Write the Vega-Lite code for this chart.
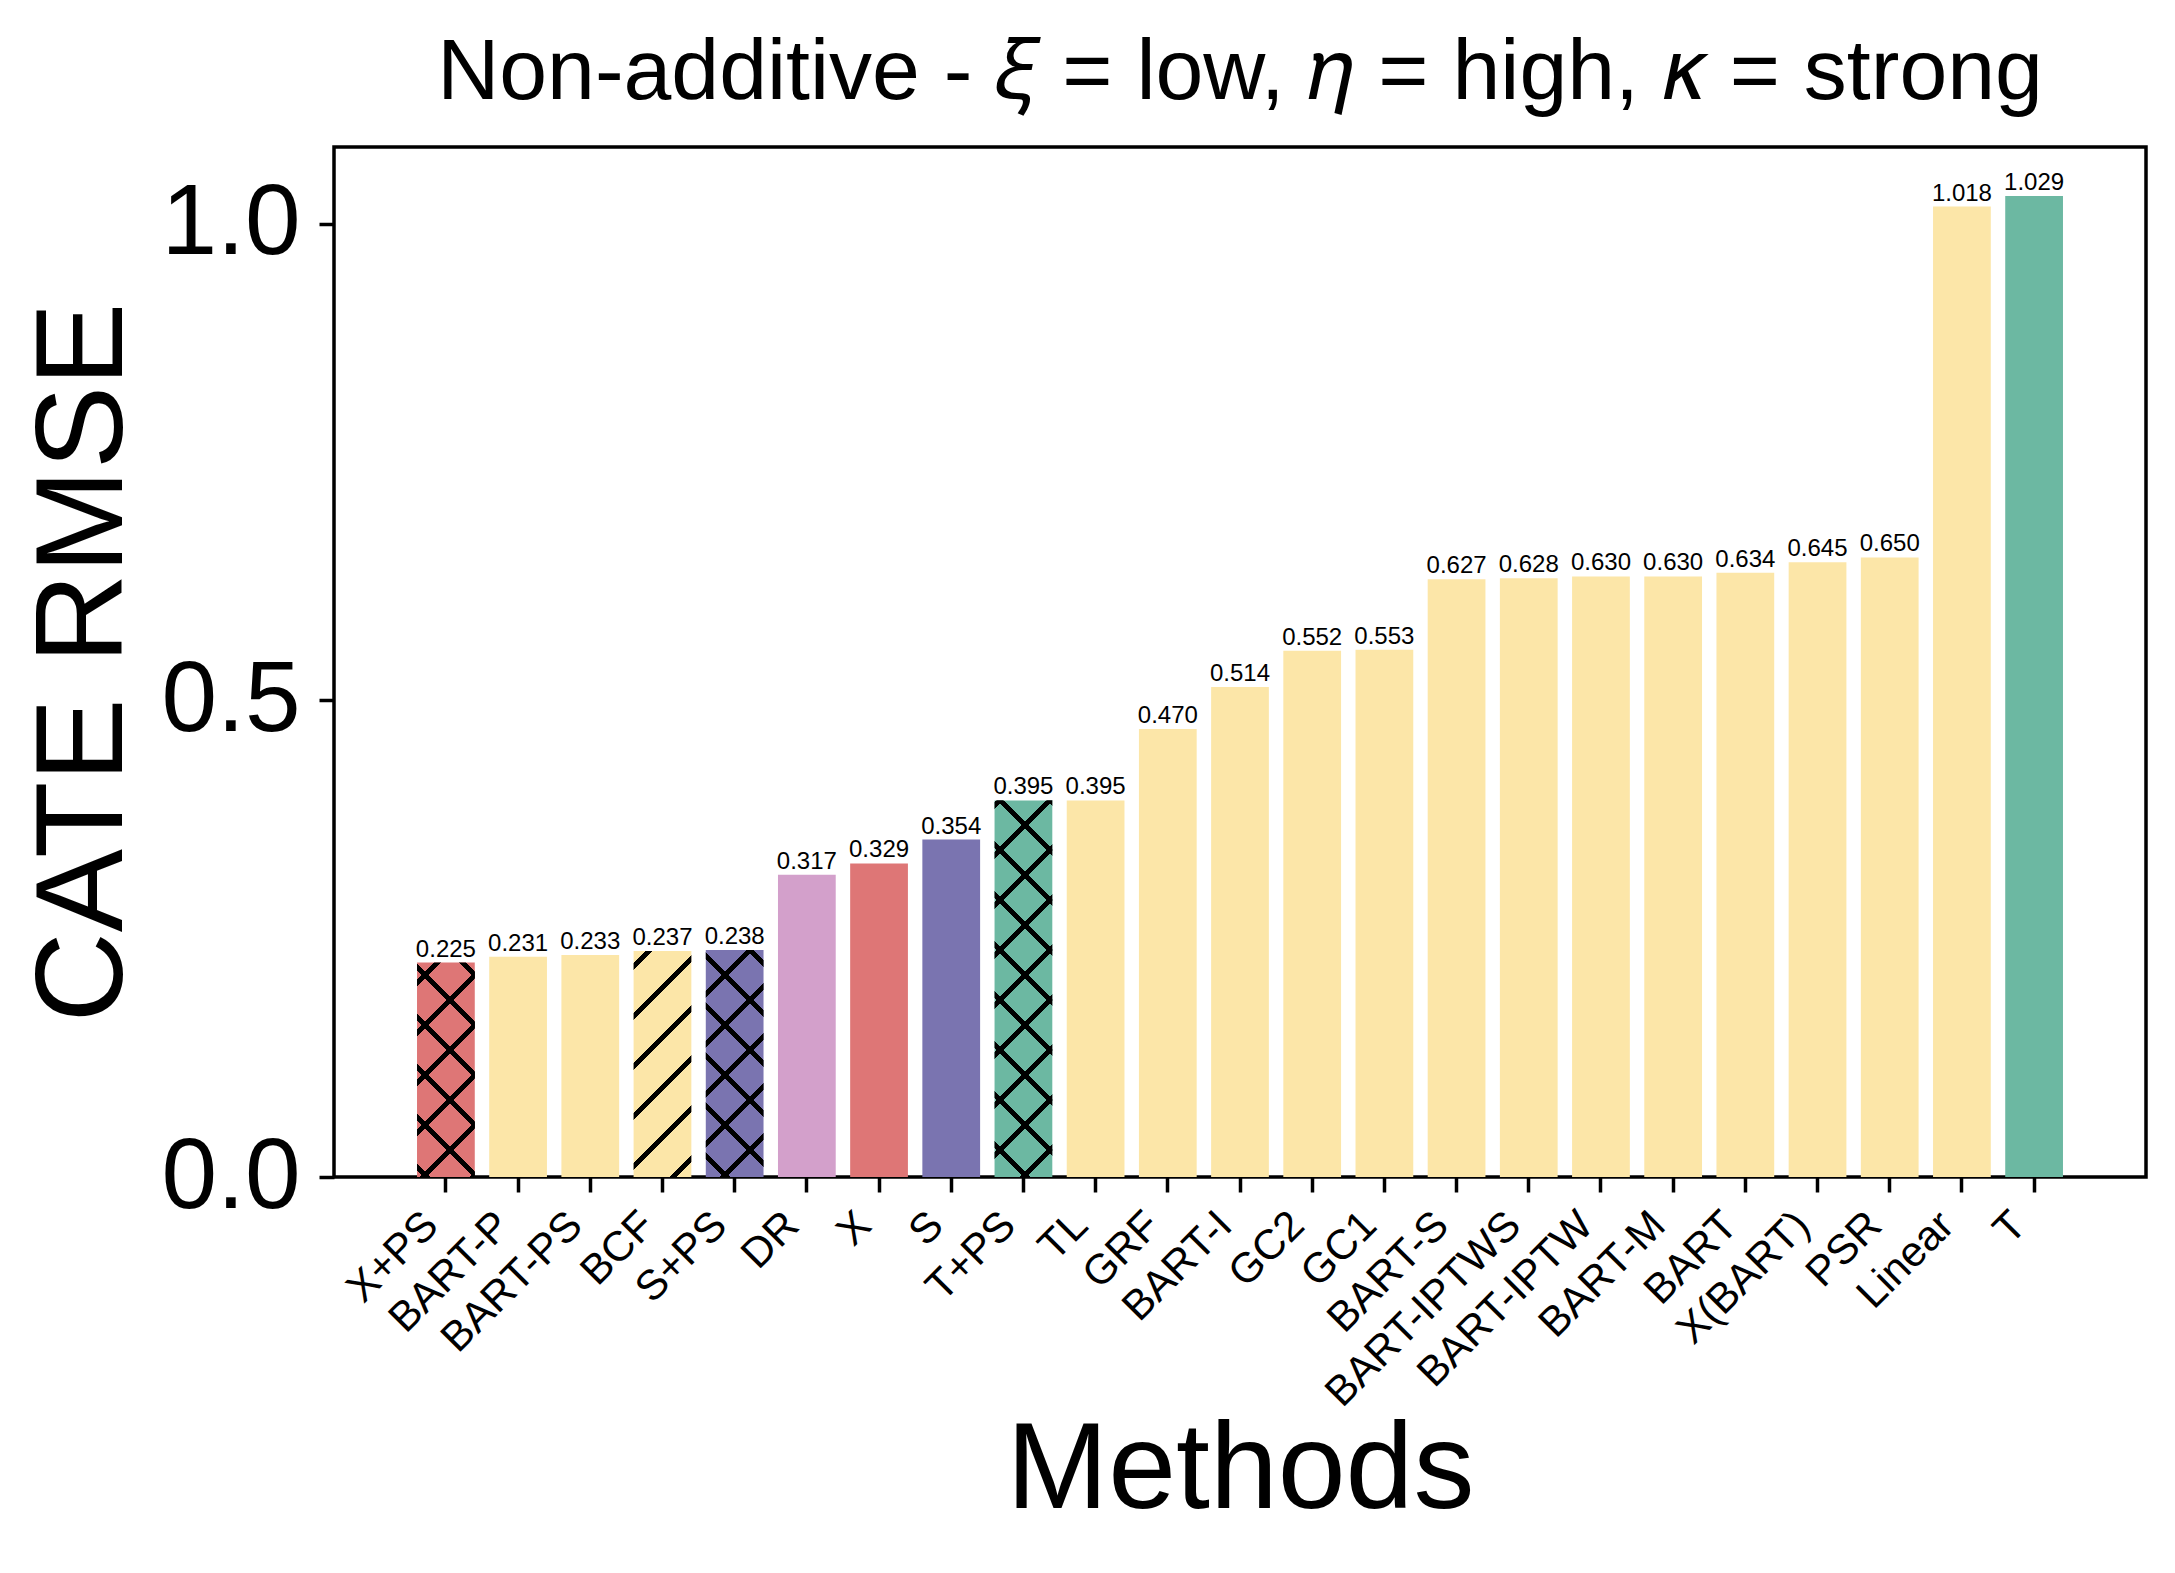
{
  "$schema": "https://vega.github.io/schema/vega-lite/v6.json",
  "width": 1812,
  "height": 1030,
  "autosize": {"type": "none"},
  "padding": {"left": 334, "top": 147, "right": 29, "bottom": 396},
  "background": "white",
  "title": {
    "text": "Non-additive - 𝜉 = low, 𝜂 = high, 𝜅 = strong",
    "font": "Liberation Sans",
    "fontSize": 86,
    "fontWeight": "normal",
    "color": "black",
    "anchor": "middle",
    "offset": 30
  },
  "config": {
    "font": "Liberation Sans",
    "view": {"stroke": "black", "strokeWidth": 3.5},
    "axis": {
      "domain": false,
      "grid": false,
      "tickColor": "black",
      "tickWidth": 3.5,
      "tickSize": 15,
      "labelColor": "black",
      "titleColor": "black",
      "labelFont": "Liberation Sans",
      "titleFont": "Liberation Sans",
      "titleFontWeight": "normal",
      "labelLimit": 0
    }
  },
  "datasets": {
    "rows": [
      {"method": "X+PS", "rmse": 0.225, "learner": "X"},
      {"method": "BART-P", "rmse": 0.231, "learner": "other"},
      {"method": "BART-PS", "rmse": 0.233, "learner": "other"},
      {"method": "BCF", "rmse": 0.237, "learner": "other"},
      {"method": "S+PS", "rmse": 0.238, "learner": "S"},
      {"method": "DR", "rmse": 0.317, "learner": "DR"},
      {"method": "X", "rmse": 0.329, "learner": "X"},
      {"method": "S", "rmse": 0.354, "learner": "S"},
      {"method": "T+PS", "rmse": 0.395, "learner": "T"},
      {"method": "TL", "rmse": 0.395, "learner": "other"},
      {"method": "GRF", "rmse": 0.470, "learner": "other"},
      {"method": "BART-I", "rmse": 0.514, "learner": "other"},
      {"method": "GC2", "rmse": 0.552, "learner": "other"},
      {"method": "GC1", "rmse": 0.553, "learner": "other"},
      {"method": "BART-S", "rmse": 0.627, "learner": "other"},
      {"method": "BART-IPTWS", "rmse": 0.628, "learner": "other"},
      {"method": "BART-IPTW", "rmse": 0.630, "learner": "other"},
      {"method": "BART-M", "rmse": 0.630, "learner": "other"},
      {"method": "BART", "rmse": 0.634, "learner": "other"},
      {"method": "X(BART)", "rmse": 0.645, "learner": "other"},
      {"method": "PSR", "rmse": 0.650, "learner": "other"},
      {"method": "Linear", "rmse": 1.018, "learner": "other"},
      {"method": "T", "rmse": 1.029, "learner": "T"}
    ]
  },
  "data": {"name": "rows"},
  "encoding": {
    "x": {
      "field": "method",
      "type": "nominal",
      "scale": {
        "domain": ["X+PS", "BART-P", "BART-PS", "BCF", "S+PS", "DR", "X", "S", "T+PS", "TL", "GRF", "BART-I", "GC2", "GC1", "BART-S", "BART-IPTWS", "BART-IPTW", "BART-M", "BART", "X(BART)", "PSR", "Linear", "T"],
        "paddingInner": 0.2,
        "paddingOuter": 0,
        "range": [83.02, 1728.98]
      },
      "axis": {
        "title": "Methods",
        "titleFontSize": 122,
        "titlePadding": 34,
        "labelFontSize": 42,
        "labelAngle": -45,
        "labelAlign": "right",
        "labelBaseline": "top",
        "labelPadding": 12,
        "labelOffset": -29
      }
    },
    "y": {
      "field": "rmse",
      "type": "quantitative",
      "scale": {"domain": [0, 1.0805], "nice": false, "zero": true},
      "axis": {
        "title": "CATE RMSE",
        "titleFontSize": 125,
        "titlePadding": 13,
        "values": [0, 0.5, 1.0],
        "format": ".1f",
        "labelFontSize": 100,
        "labelPadding": 19
      }
    }
  },
  "layer": [
    {
      "mark": {"type": "bar"},
      "encoding": {
        "color": {
          "field": "learner",
          "type": "nominal",
          "scale": {"domain": ["X", "other", "S", "DR", "T"], "range": ["#DE7676", "#FCE6A8", "#7A74B0", "#D3A0CB", "#6CB8A2"]},
          "legend": null
        }
      }
    },
    {
      "mark": {"type": "text", "dy": -6, "fontSize": 24, "baseline": "alphabetic", "font": "Liberation Sans", "color": "black"},
      "encoding": {"text": {"field": "rmse", "type": "quantitative", "format": ".3f"}}
    },
    {
      "transform": [{"filter": "datum.method === 'X+PS'"}],
      "mark": {"type": "bar", "fill": {"gradient": "linear", "x1": 0, "y1": 0, "x2": 0.31867, "y2": 1.18343, "stops": [
        {"offset": 0, "color": "rgba(0,0,0,0)"},
        {"offset": 0.0612, "color": "rgba(0,0,0,0)"}, {"offset": 0.0612, "color": "black"}, {"offset": 0.0891, "color": "black"}, {"offset": 0.0891, "color": "rgba(0,0,0,0)"},
        {"offset": 0.2449, "color": "rgba(0,0,0,0)"}, {"offset": 0.2449, "color": "black"}, {"offset": 0.2728, "color": "black"}, {"offset": 0.2728, "color": "rgba(0,0,0,0)"},
        {"offset": 0.4285, "color": "rgba(0,0,0,0)"}, {"offset": 0.4285, "color": "black"}, {"offset": 0.4564, "color": "black"}, {"offset": 0.4564, "color": "rgba(0,0,0,0)"},
        {"offset": 0.6122, "color": "rgba(0,0,0,0)"}, {"offset": 0.6122, "color": "black"}, {"offset": 0.6401, "color": "black"}, {"offset": 0.6401, "color": "rgba(0,0,0,0)"},
        {"offset": 0.7959, "color": "rgba(0,0,0,0)"}, {"offset": 0.7959, "color": "black"}, {"offset": 0.8238, "color": "black"}, {"offset": 0.8238, "color": "rgba(0,0,0,0)"},
        {"offset": 0.9796, "color": "rgba(0,0,0,0)"}, {"offset": 0.9796, "color": "black"}, {"offset": 1, "color": "black"}
      ]}}
    },
    {
      "transform": [{"filter": "datum.method === 'X+PS'"}],
      "mark": {"type": "bar", "fill": {"gradient": "linear", "x1": 0, "y1": 1, "x2": 0.31867, "y2": -0.18343, "stops": [
        {"offset": 0, "color": "rgba(0,0,0,0)"},
        {"offset": 0.0227, "color": "rgba(0,0,0,0)"}, {"offset": 0.0227, "color": "black"}, {"offset": 0.0506, "color": "black"}, {"offset": 0.0506, "color": "rgba(0,0,0,0)"},
        {"offset": 0.2064, "color": "rgba(0,0,0,0)"}, {"offset": 0.2064, "color": "black"}, {"offset": 0.2343, "color": "black"}, {"offset": 0.2343, "color": "rgba(0,0,0,0)"},
        {"offset": 0.3901, "color": "rgba(0,0,0,0)"}, {"offset": 0.3901, "color": "black"}, {"offset": 0.4180, "color": "black"}, {"offset": 0.4180, "color": "rgba(0,0,0,0)"},
        {"offset": 0.5737, "color": "rgba(0,0,0,0)"}, {"offset": 0.5737, "color": "black"}, {"offset": 0.6016, "color": "black"}, {"offset": 0.6016, "color": "rgba(0,0,0,0)"},
        {"offset": 0.7574, "color": "rgba(0,0,0,0)"}, {"offset": 0.7574, "color": "black"}, {"offset": 0.7853, "color": "black"}, {"offset": 0.7853, "color": "rgba(0,0,0,0)"},
        {"offset": 0.9411, "color": "rgba(0,0,0,0)"}, {"offset": 0.9411, "color": "black"}, {"offset": 0.9690, "color": "black"}, {"offset": 0.9690, "color": "rgba(0,0,0,0)"},
        {"offset": 1, "color": "rgba(0,0,0,0)"}
      ]}}
    },
    {
      "transform": [{"filter": "datum.method === 'BCF'"}],
      "mark": {"type": "bar", "fill": {"gradient": "linear", "x1": 0, "y1": 0, "x2": 0.30129, "y2": 1.17860, "stops": [
        {"offset": 0, "color": "rgba(0,0,0,0)"},
        {"offset": 0.0407, "color": "rgba(0,0,0,0)"}, {"offset": 0.0407, "color": "black"}, {"offset": 0.0674, "color": "black"}, {"offset": 0.0674, "color": "rgba(0,0,0,0)"},
        {"offset": 0.2169, "color": "rgba(0,0,0,0)"}, {"offset": 0.2169, "color": "black"}, {"offset": 0.2437, "color": "black"}, {"offset": 0.2437, "color": "rgba(0,0,0,0)"},
        {"offset": 0.3932, "color": "rgba(0,0,0,0)"}, {"offset": 0.3932, "color": "black"}, {"offset": 0.4199, "color": "black"}, {"offset": 0.4199, "color": "rgba(0,0,0,0)"},
        {"offset": 0.5695, "color": "rgba(0,0,0,0)"}, {"offset": 0.5695, "color": "black"}, {"offset": 0.5962, "color": "black"}, {"offset": 0.5962, "color": "rgba(0,0,0,0)"},
        {"offset": 0.7457, "color": "rgba(0,0,0,0)"}, {"offset": 0.7457, "color": "black"}, {"offset": 0.7725, "color": "black"}, {"offset": 0.7725, "color": "rgba(0,0,0,0)"},
        {"offset": 0.9220, "color": "rgba(0,0,0,0)"}, {"offset": 0.9220, "color": "black"}, {"offset": 0.9487, "color": "black"}, {"offset": 0.9487, "color": "rgba(0,0,0,0)"},
        {"offset": 1, "color": "rgba(0,0,0,0)"}
      ]}}
    },
    {
      "transform": [{"filter": "datum.method === 'S+PS'"}],
      "mark": {"type": "bar", "fill": {"gradient": "linear", "x1": 0, "y1": 0, "x2": 0.29991, "y2": 1.17819, "stops": [
        {"offset": 0, "color": "rgba(0,0,0,0)"},
        {"offset": 0.1416, "color": "rgba(0,0,0,0)"}, {"offset": 0.1416, "color": "black"}, {"offset": 0.1683, "color": "black"}, {"offset": 0.1683, "color": "rgba(0,0,0,0)"},
        {"offset": 0.3173, "color": "rgba(0,0,0,0)"}, {"offset": 0.3173, "color": "black"}, {"offset": 0.3439, "color": "black"}, {"offset": 0.3439, "color": "rgba(0,0,0,0)"},
        {"offset": 0.4929, "color": "rgba(0,0,0,0)"}, {"offset": 0.4929, "color": "black"}, {"offset": 0.5196, "color": "black"}, {"offset": 0.5196, "color": "rgba(0,0,0,0)"},
        {"offset": 0.6686, "color": "rgba(0,0,0,0)"}, {"offset": 0.6686, "color": "black"}, {"offset": 0.6953, "color": "black"}, {"offset": 0.6953, "color": "rgba(0,0,0,0)"},
        {"offset": 0.8443, "color": "rgba(0,0,0,0)"}, {"offset": 0.8443, "color": "black"}, {"offset": 0.8709, "color": "black"}, {"offset": 0.8709, "color": "rgba(0,0,0,0)"},
        {"offset": 1, "color": "rgba(0,0,0,0)"}
      ]}}
    },
    {
      "transform": [{"filter": "datum.method === 'S+PS'"}],
      "mark": {"type": "bar", "fill": {"gradient": "linear", "x1": 0, "y1": 1, "x2": 0.29991, "y2": -0.17819, "stops": [
        {"offset": 0, "color": "rgba(0,0,0,0)"},
        {"offset": 0.0612, "color": "rgba(0,0,0,0)"}, {"offset": 0.0612, "color": "black"}, {"offset": 0.0879, "color": "black"}, {"offset": 0.0879, "color": "rgba(0,0,0,0)"},
        {"offset": 0.2369, "color": "rgba(0,0,0,0)"}, {"offset": 0.2369, "color": "black"}, {"offset": 0.2636, "color": "black"}, {"offset": 0.2636, "color": "rgba(0,0,0,0)"},
        {"offset": 0.4126, "color": "rgba(0,0,0,0)"}, {"offset": 0.4126, "color": "black"}, {"offset": 0.4392, "color": "black"}, {"offset": 0.4392, "color": "rgba(0,0,0,0)"},
        {"offset": 0.5882, "color": "rgba(0,0,0,0)"}, {"offset": 0.5882, "color": "black"}, {"offset": 0.6149, "color": "black"}, {"offset": 0.6149, "color": "rgba(0,0,0,0)"},
        {"offset": 0.7639, "color": "rgba(0,0,0,0)"}, {"offset": 0.7639, "color": "black"}, {"offset": 0.7906, "color": "black"}, {"offset": 0.7906, "color": "rgba(0,0,0,0)"},
        {"offset": 0.9396, "color": "rgba(0,0,0,0)"}, {"offset": 0.9396, "color": "black"}, {"offset": 0.9662, "color": "black"}, {"offset": 0.9662, "color": "rgba(0,0,0,0)"},
        {"offset": 1, "color": "rgba(0,0,0,0)"}
      ]}}
    },
    {
      "transform": [{"filter": "datum.method === 'T+PS'"}],
      "mark": {"type": "bar", "fill": {"gradient": "linear", "x1": 0, "y1": 0, "x2": 0.17284, "y2": 1.12687, "stops": [
        {"offset": 0, "color": "rgba(0,0,0,0)"},
        {"offset": 0.0027, "color": "rgba(0,0,0,0)"}, {"offset": 0.0027, "color": "black"}, {"offset": 0.0203, "color": "black"}, {"offset": 0.0203, "color": "rgba(0,0,0,0)"},
        {"offset": 0.1178, "color": "rgba(0,0,0,0)"}, {"offset": 0.1178, "color": "black"}, {"offset": 0.1354, "color": "black"}, {"offset": 0.1354, "color": "rgba(0,0,0,0)"},
        {"offset": 0.2330, "color": "rgba(0,0,0,0)"}, {"offset": 0.2330, "color": "black"}, {"offset": 0.2505, "color": "black"}, {"offset": 0.2505, "color": "rgba(0,0,0,0)"},
        {"offset": 0.3481, "color": "rgba(0,0,0,0)"}, {"offset": 0.3481, "color": "black"}, {"offset": 0.3657, "color": "black"}, {"offset": 0.3657, "color": "rgba(0,0,0,0)"},
        {"offset": 0.4632, "color": "rgba(0,0,0,0)"}, {"offset": 0.4632, "color": "black"}, {"offset": 0.4808, "color": "black"}, {"offset": 0.4808, "color": "rgba(0,0,0,0)"},
        {"offset": 0.5784, "color": "rgba(0,0,0,0)"}, {"offset": 0.5784, "color": "black"}, {"offset": 0.5959, "color": "black"}, {"offset": 0.5959, "color": "rgba(0,0,0,0)"},
        {"offset": 0.6935, "color": "rgba(0,0,0,0)"}, {"offset": 0.6935, "color": "black"}, {"offset": 0.7111, "color": "black"}, {"offset": 0.7111, "color": "rgba(0,0,0,0)"},
        {"offset": 0.8086, "color": "rgba(0,0,0,0)"}, {"offset": 0.8086, "color": "black"}, {"offset": 0.8262, "color": "black"}, {"offset": 0.8262, "color": "rgba(0,0,0,0)"},
        {"offset": 0.9238, "color": "rgba(0,0,0,0)"}, {"offset": 0.9238, "color": "black"}, {"offset": 0.9413, "color": "black"}, {"offset": 0.9413, "color": "rgba(0,0,0,0)"},
        {"offset": 1, "color": "rgba(0,0,0,0)"}
      ]}}
    },
    {
      "transform": [{"filter": "datum.method === 'T+PS'"}],
      "mark": {"type": "bar", "fill": {"gradient": "linear", "x1": 0, "y1": 1, "x2": 0.17284, "y2": -0.12687, "stops": [
        {"offset": 0, "color": "rgba(0,0,0,0)"},
        {"offset": 0.0659, "color": "rgba(0,0,0,0)"}, {"offset": 0.0659, "color": "black"}, {"offset": 0.0835, "color": "black"}, {"offset": 0.0835, "color": "rgba(0,0,0,0)"},
        {"offset": 0.1811, "color": "rgba(0,0,0,0)"}, {"offset": 0.1811, "color": "black"}, {"offset": 0.1986, "color": "black"}, {"offset": 0.1986, "color": "rgba(0,0,0,0)"},
        {"offset": 0.2962, "color": "rgba(0,0,0,0)"}, {"offset": 0.2962, "color": "black"}, {"offset": 0.3138, "color": "black"}, {"offset": 0.3138, "color": "rgba(0,0,0,0)"},
        {"offset": 0.4113, "color": "rgba(0,0,0,0)"}, {"offset": 0.4113, "color": "black"}, {"offset": 0.4289, "color": "black"}, {"offset": 0.4289, "color": "rgba(0,0,0,0)"},
        {"offset": 0.5265, "color": "rgba(0,0,0,0)"}, {"offset": 0.5265, "color": "black"}, {"offset": 0.5440, "color": "black"}, {"offset": 0.5440, "color": "rgba(0,0,0,0)"},
        {"offset": 0.6416, "color": "rgba(0,0,0,0)"}, {"offset": 0.6416, "color": "black"}, {"offset": 0.6592, "color": "black"}, {"offset": 0.6592, "color": "rgba(0,0,0,0)"},
        {"offset": 0.7567, "color": "rgba(0,0,0,0)"}, {"offset": 0.7567, "color": "black"}, {"offset": 0.7743, "color": "black"}, {"offset": 0.7743, "color": "rgba(0,0,0,0)"},
        {"offset": 0.8718, "color": "rgba(0,0,0,0)"}, {"offset": 0.8718, "color": "black"}, {"offset": 0.8894, "color": "black"}, {"offset": 0.8894, "color": "rgba(0,0,0,0)"},
        {"offset": 0.9870, "color": "rgba(0,0,0,0)"}, {"offset": 0.9870, "color": "black"}, {"offset": 1, "color": "black"}
      ]}}
    }
  ]
}
